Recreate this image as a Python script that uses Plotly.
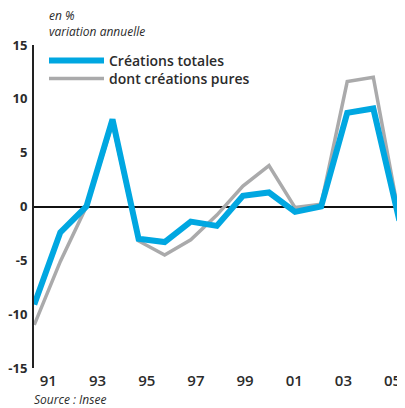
import plotly.graph_objects as go

years = list(range(1991, 2006))
creations_totales = [-9.1, -2.4, 0.0, 8.1, -3.0, -3.3, -1.4, -1.8, 1.0, 1.3, -0.5, 0.0, 8.7, 9.1, -1.3]
creations_pures = [-11.0, -5.1, 0.0, 7.7, -3.2, -4.5, -3.1, -0.8, 1.9, 3.8, -0.1, 0.2, 11.6, 12.0, -1.0]
tick_labels = ["91", "93", "95", "97", "99", "01", "03", "05"]
y_ticks = [-15, -10, -5, 0, 5, 10, 15]
y_tick_labels = ["-15", "-10", "-5", "0", "5", "10", "15"]

# labels sit slightly offset from the yearly points, spread evenly
first_lbl, last_lbl = 1991.54, 2004.74
step = (last_lbl - first_lbl) / (len(tick_labels) - 1)
tick_pos = [first_lbl + i * step for i in range(len(tick_labels))]

BLUE = "#00a7e1"
GREY = "#aaaaab"
TXT = "#2b2b2b"
FONT = "Open Sans"

# page body has an 8px default margin -> figure is 8px smaller
W, H = 397, 400
L, R, T, B = 26, 3, 37, 40
PH = H - T - B

fig = go.Figure()
fig.add_trace(go.Scatter(x=years, y=creations_pures, mode="lines",
                         name="dont créations pures", legend="legend2",
                         line=dict(color=GREY, width=3.5)))
fig.add_trace(go.Scatter(x=years, y=creations_totales, mode="lines",
                         name="Créations totales", legend="legend",
                         line=dict(color=BLUE, width=6)))

leg_common = dict(xanchor="left", yanchor="top", bgcolor="rgba(0,0,0,0)",
                  font=dict(size=14, color=TXT, weight=600, family=FONT),
                  itemwidth=55)

fig.update_layout(
    width=W, height=H,
    margin=dict(l=L, r=R, t=T, b=B),
    plot_bgcolor="white", paper_bgcolor="white",
    font=dict(family=FONT, color=TXT),
    showlegend=True,
    legend=dict(x=(36 - L) / (W - L - R), y=1.0, **leg_common),
    legend2=dict(x=(36 - L) / (W - L - R), y=1.0 - 18 / PH, **leg_common),
    xaxis=dict(range=[1990.99, 2005.1], showgrid=False, zeroline=False,
               showline=False, tickmode="array", tickvals=tick_pos,
               ticktext=tick_labels, ticks="",
               tickfont=dict(size=15, color=TXT, weight=600), ticklabelstandoff=2),
    yaxis=dict(range=[-15, 15], showgrid=False, zeroline=True,
               zerolinecolor="#111111", zerolinewidth=1.5,
               showline=True, linecolor="#222222", linewidth=2,
               tickmode="array", tickvals=y_ticks, ticktext=y_tick_labels, ticks="",
               tickfont=dict(size=13, color=TXT, weight=700), ticklabelstandoff=2,
               automargin=False),
    annotations=[
        dict(text="en %<br>variation annuelle", xref="paper", yref="paper",
             x=(40 - L) / (W - L - R), y=1.0, yshift=22, xanchor="left",
             yanchor="middle", align="left", showarrow=False, borderpad=0,
             font=dict(size=12, color=TXT, style="italic")),
        dict(text="Source : Insee", xref="paper", yref="paper", x=0.0, y=0.0,
             yshift=-31, xshift=-2, xanchor="left", yanchor="middle", showarrow=False,
             font=dict(size=12, color=TXT, style="italic")),
    ],
)
fig.update_xaxes(automargin=False)

fig.write_html("out.html")
